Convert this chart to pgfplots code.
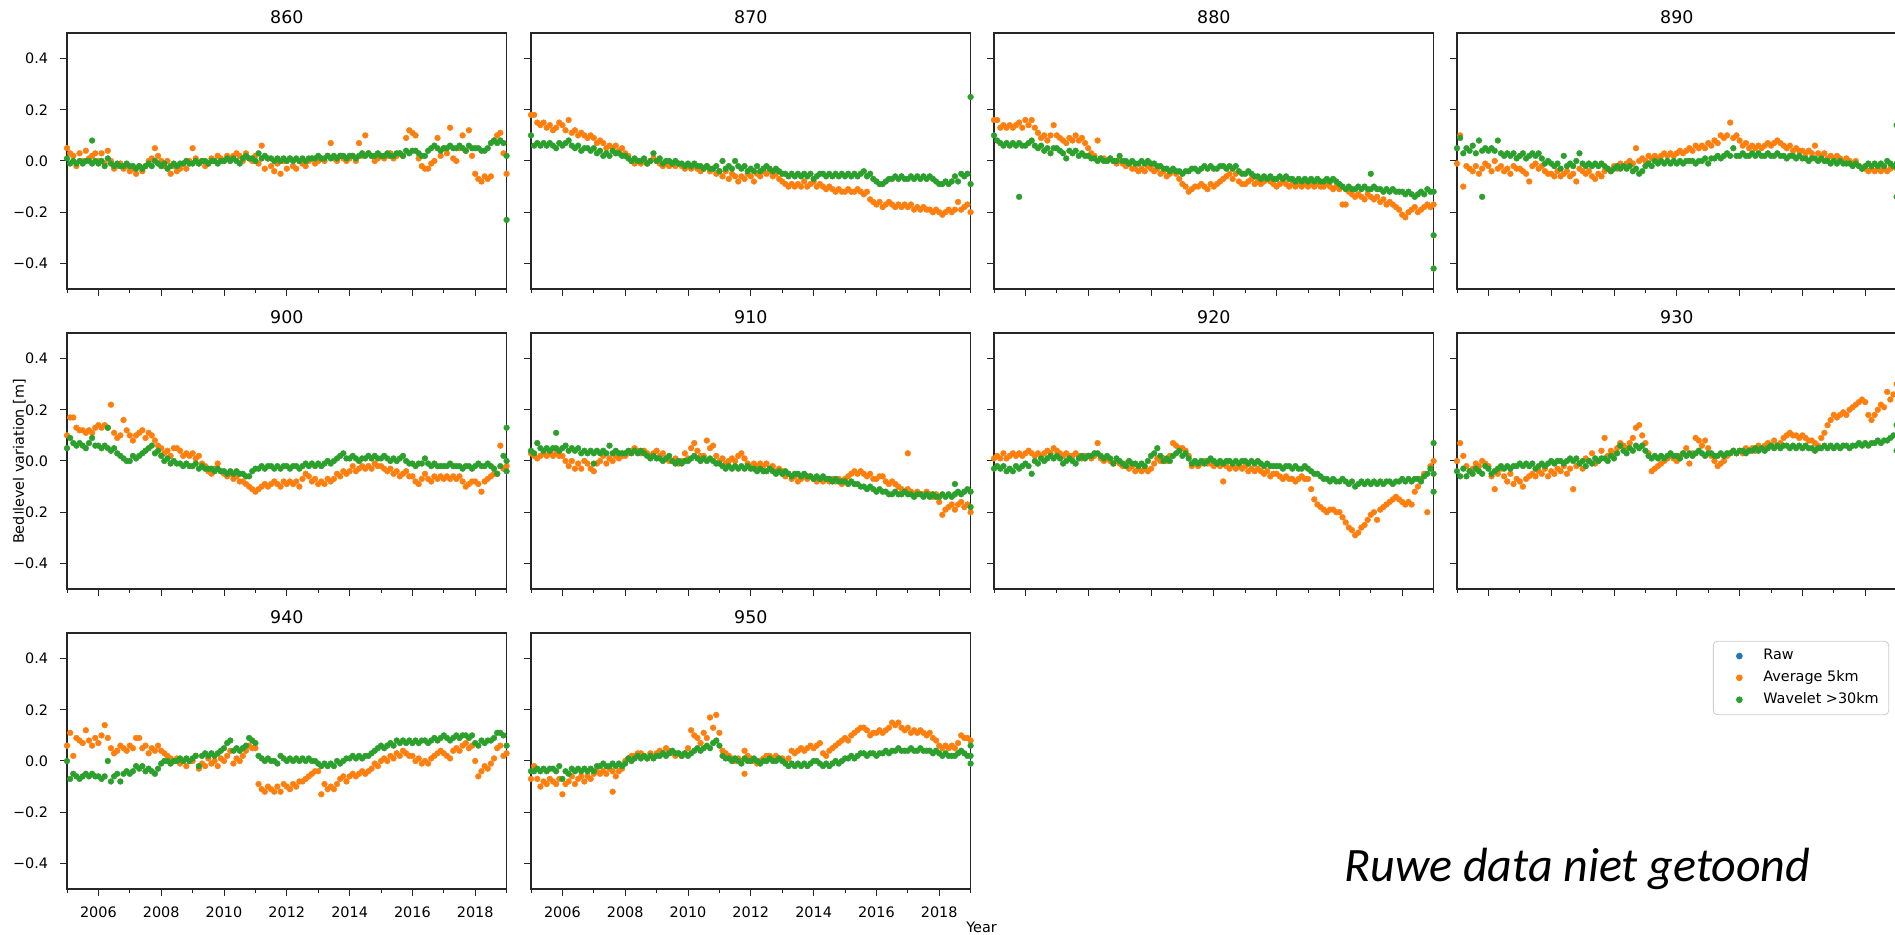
\documentclass[border=0pt]{standalone}
\usepackage{pgfplots}
\pgfplotsset{compat=1.18}
\usepackage{pgfplotstable}
\usepackage{fontspec}
\setmainfont{DejaVu Sans}
\newfontfamily\calibri{Carlito}
\definecolor{mplorange}{HTML}{FF7F0E}
\definecolor{mplgreen}{HTML}{2CA02C}
\definecolor{mplblue}{HTML}{1F77B4}

\pgfplotstableread{
t a w
2005.0 0.05 0.01
2005.1 0.03 -0.01
2005.2 0.02 0.00
2005.3 -0.02 -0.01
2005.4 0.03 0.00
2005.5 0.00 -0.01
2005.6 0.04 0.00
2005.7 0.01 0.00
2005.8 0.02 -0.01
2005.9 0.03 0.00
2006.0 0.00 -0.01
2006.1 0.03 0.00
2006.2 -0.01 -0.02
2006.3 0.04 0.01
2006.4 0.00 -0.01
2006.5 -0.03 -0.02
2006.6 -0.02 -0.01
2006.7 -0.01 -0.02
2006.8 -0.03 -0.02
2006.9 -0.02 -0.01
2007.0 -0.04 -0.02
2007.1 -0.03 -0.02
2007.2 -0.05 -0.03
2007.3 -0.02 -0.02
2007.4 -0.04 -0.03
2007.5 -0.02 -0.02
2007.6 0.00 -0.01
2007.7 0.01 -0.02
2007.8 0.05 0.00
2007.9 0.02 -0.01
2008.0 0.00 -0.02
2008.1 -0.02 -0.01
2008.2 0.00 -0.03
2008.3 -0.05 -0.02
2008.4 -0.02 -0.01
2008.5 -0.04 -0.02
2008.6 -0.03 -0.01
2008.7 -0.01 -0.01
2008.8 -0.03 0.00
2008.9 0.00 -0.01
2009.0 0.05 -0.01
2009.1 0.01 0.00
2009.2 -0.01 -0.01
2009.3 0.00 0.00
2009.4 -0.02 0.00
2009.5 -0.01 -0.01
2009.6 0.01 0.00
2009.7 0.00 0.00
2009.8 0.02 -0.01
2009.9 0.01 0.00
2010.0 0.00 0.00
2010.1 0.02 0.01
2010.2 0.01 0.00
2010.3 0.02 0.01
2010.4 0.03 0.00
2010.5 0.02 -0.01
2010.6 0.00 0.01
2010.7 0.03 0.02
2010.8 0.01 0.01
2010.9 0.00 0.01
2011.0 0.02 0.00
2011.1 -0.01 0.03
2011.2 0.06 0.01
2011.3 -0.03 0.02
2011.4 0.01 0.01
2011.5 -0.02 0.01
2011.6 -0.04 0.00
2011.7 -0.01 0.01
2011.8 -0.05 0.00
2011.9 0.00 0.01
2012.0 -0.03 0.00
2012.1 0.01 0.01
2012.2 -0.02 0.00
2012.3 -0.03 0.01
2012.4 0.00 0.00
2012.5 -0.01 0.01
2012.6 -0.02 0.00
2012.7 0.00 0.01
2012.8 0.01 0.01
2012.9 -0.01 0.01
2013.0 0.00 0.02
2013.1 0.01 0.01
2013.2 0.00 0.01
2013.3 0.02 0.02
2013.4 0.07 0.01
2013.5 0.01 0.02
2013.6 0.00 0.01
2013.7 0.02 0.02
2013.8 0.01 0.02
2013.9 0.00 0.01
2014.0 0.01 0.02
2014.1 0.02 0.02
2014.2 0.00 0.01
2014.3 0.07 0.02
2014.4 0.02 0.03
2014.5 0.10 0.02
2014.6 0.03 0.03
2014.7 0.02 0.02
2014.8 0.00 0.02
2014.9 0.01 0.03
2015.0 0.02 0.02
2015.1 0.01 0.02
2015.2 0.02 0.03
2015.3 0.03 0.02
2015.4 0.01 0.02
2015.5 0.02 0.03
2015.6 0.03 0.03
2015.7 0.02 0.02
2015.8 0.09 0.04
2015.9 0.12 0.03
2016.0 0.11 0.04
2016.1 0.10 0.04
2016.2 0.01 0.03
2016.3 -0.02 0.02
2016.4 -0.03 0.02
2016.5 -0.03 0.04
2016.6 -0.01 0.05
2016.7 0.00 0.06
2016.8 0.09 0.05
2016.9 0.02 0.04
2017.0 0.05 0.05
2017.1 0.03 0.05
2017.2 0.13 0.06
2017.3 0.01 0.05
2017.4 0.00 0.05
2017.5 0.05 0.06
2017.6 0.10 0.05
2017.7 0.04 0.04
2017.8 0.12 0.06
2017.9 0.02 0.05
2018.0 -0.05 0.05
2018.1 -0.07 0.05
2018.2 -0.08 0.04
2018.3 -0.06 0.04
2018.4 -0.07 0.05
2018.5 -0.06 0.07
2018.6 0.08 0.08
2018.7 0.10 0.07
2018.8 0.11 0.08
2018.9 0.03 0.07
2019.0 -0.05 0.02
}\tA

\pgfplotstableread{
t a w
2005.0 0.18 0.10
2005.1 0.18 0.06
2005.2 0.15 0.07
2005.3 0.14 0.06
2005.4 0.15 0.07
2005.5 0.13 0.06
2005.6 0.14 0.07
2005.7 0.12 0.06
2005.8 0.13 0.05
2005.9 0.15 0.07
2006.0 0.14 0.06
2006.1 0.12 0.07
2006.2 0.16 0.08
2006.3 0.11 0.06
2006.4 0.12 0.05
2006.5 0.10 0.06
2006.6 0.11 0.04
2006.7 0.10 0.05
2006.8 0.09 0.05
2006.9 0.10 0.04
2007.0 0.09 0.05
2007.1 0.07 0.03
2007.2 0.08 0.04
2007.3 0.07 0.02
2007.4 0.05 0.03
2007.5 0.06 0.02
2007.6 0.05 0.04
2007.7 0.06 0.03
2007.8 0.04 0.03
2007.9 0.05 0.02
2008.0 0.03 0.02
2008.1 0.02 0.01
2008.2 0.00 0.00
2008.3 -0.01 0.01
2008.4 0.00 0.00
2008.5 -0.01 0.00
2008.6 0.00 0.01
2008.7 -0.01 -0.01
2008.8 0.00 0.00
2008.9 0.01 0.03
2009.0 0.00 0.00
2009.1 -0.01 0.01
2009.2 -0.02 -0.01
2009.3 -0.01 0.00
2009.4 -0.02 0.00
2009.5 -0.01 -0.01
2009.6 -0.02 0.00
2009.7 -0.01 -0.01
2009.8 -0.02 -0.01
2009.9 -0.03 -0.02
2010.0 -0.02 -0.01
2010.1 -0.03 -0.02
2010.2 -0.02 -0.01
2010.3 -0.03 -0.02
2010.4 -0.04 -0.02
2010.5 -0.03 -0.03
2010.6 -0.02 -0.02
2010.7 -0.04 -0.03
2010.8 -0.03 -0.03
2010.9 -0.05 -0.02
2011.0 -0.04 -0.04
2011.1 -0.06 0.00
2011.2 -0.04 -0.03
2011.3 -0.07 -0.02
2011.4 -0.05 -0.03
2011.5 -0.06 0.00
2011.6 -0.08 -0.02
2011.7 -0.06 -0.03
2011.8 -0.07 -0.02
2011.9 -0.05 -0.04
2012.0 -0.06 -0.03
2012.1 -0.08 -0.04
2012.2 -0.05 -0.02
2012.3 -0.06 -0.04
2012.4 -0.04 -0.03
2012.5 -0.05 -0.02
2012.6 -0.04 -0.03
2012.7 -0.06 -0.04
2012.8 -0.05 -0.03
2012.9 -0.07 -0.04
2013.0 -0.08 -0.05
2013.1 -0.09 -0.05
2013.2 -0.10 -0.06
2013.3 -0.09 -0.05
2013.4 -0.10 -0.06
2013.5 -0.09 -0.05
2013.6 -0.10 -0.06
2013.7 -0.08 -0.05
2013.8 -0.10 -0.06
2013.9 -0.09 -0.05
2014.0 -0.08 -0.07
2014.1 -0.10 -0.06
2014.2 -0.09 -0.05
2014.3 -0.10 -0.05
2014.4 -0.11 -0.06
2014.5 -0.10 -0.05
2014.6 -0.11 -0.06
2014.7 -0.12 -0.05
2014.8 -0.11 -0.06
2014.9 -0.12 -0.05
2015.0 -0.12 -0.06
2015.1 -0.11 -0.05
2015.2 -0.12 -0.06
2015.3 -0.12 -0.05
2015.4 -0.11 -0.06
2015.5 -0.12 -0.05
2015.6 -0.13 -0.04
2015.7 -0.12 -0.06
2015.8 -0.15 -0.05
2015.9 -0.16 -0.07
2016.0 -0.17 -0.08
2016.1 -0.16 -0.09
2016.2 -0.18 -0.09
2016.3 -0.17 -0.08
2016.4 -0.16 -0.07
2016.5 -0.17 -0.07
2016.6 -0.18 -0.06
2016.7 -0.17 -0.07
2016.8 -0.18 -0.06
2016.9 -0.17 -0.07
2017.0 -0.18 -0.07
2017.1 -0.17 -0.06
2017.2 -0.19 -0.07
2017.3 -0.18 -0.06
2017.4 -0.19 -0.07
2017.5 -0.18 -0.06
2017.6 -0.19 -0.07
2017.7 -0.19 -0.06
2017.8 -0.20 -0.07
2017.9 -0.19 -0.08
2018.0 -0.20 -0.09
2018.1 -0.21 -0.09
2018.2 -0.20 -0.08
2018.3 -0.19 -0.09
2018.4 -0.20 -0.08
2018.5 -0.19 -0.06
2018.6 -0.16 -0.08
2018.7 -0.19 -0.05
2018.8 -0.18 -0.06
2018.9 -0.17 -0.05
2019.0 -0.20 -0.09
}\tB

\pgfplotstableread{
t a w
2005.0 0.16 0.10
2005.1 0.16 0.08
2005.2 0.13 0.07
2005.3 0.14 0.06
2005.4 0.13 0.07
2005.5 0.14 0.06
2005.6 0.13 0.07
2005.7 0.14 0.06
2005.8 0.15 0.07
2005.9 0.13 0.06
2006.0 0.16 0.06
2006.1 0.14 0.07
2006.2 0.16 0.08
2006.3 0.13 0.06
2006.4 0.11 0.05
2006.5 0.09 0.06
2006.6 0.10 0.04
2006.7 0.08 0.05
2006.8 0.10 0.03
2006.9 0.14 0.05
2007.0 0.10 0.05
2007.1 0.09 0.04
2007.2 0.08 0.03
2007.3 0.07 0.01
2007.4 0.09 0.04
2007.5 0.08 0.03
2007.6 0.10 0.04
2007.7 0.08 0.02
2007.8 0.09 0.03
2007.9 0.07 0.02
2008.0 0.05 0.02
2008.1 0.03 0.01
2008.2 0.02 0.01
2008.3 0.08 0.00
2008.4 0.01 0.01
2008.5 0.01 0.00
2008.6 0.00 0.00
2008.7 0.01 0.01
2008.8 0.00 0.00
2008.9 -0.01 0.00
2009.0 0.00 0.02
2009.1 -0.01 0.00
2009.2 -0.02 0.00
2009.3 -0.01 -0.01
2009.4 -0.03 0.00
2009.5 -0.03 -0.01
2009.6 -0.04 -0.01
2009.7 -0.03 0.00
2009.8 -0.04 -0.01
2009.9 -0.02 0.00
2010.0 -0.03 -0.01
2010.1 -0.04 -0.01
2010.2 -0.03 -0.02
2010.3 -0.05 -0.02
2010.4 -0.04 -0.03
2010.5 -0.06 -0.03
2010.6 -0.05 -0.04
2010.7 -0.04 -0.03
2010.8 -0.05 -0.04
2010.9 -0.07 -0.04
2011.0 -0.09 -0.05
2011.1 -0.10 -0.04
2011.2 -0.12 -0.04
2011.3 -0.11 -0.03
2011.4 -0.10 -0.03
2011.5 -0.10 -0.04
2011.6 -0.09 -0.03
2011.7 -0.10 -0.02
2011.8 -0.11 -0.03
2011.9 -0.09 -0.02
2012.0 -0.10 -0.03
2012.1 -0.09 -0.03
2012.2 -0.08 -0.02
2012.3 -0.07 -0.02
2012.4 -0.06 -0.03
2012.5 -0.05 -0.02
2012.6 -0.07 -0.03
2012.7 -0.05 -0.02
2012.8 -0.08 -0.04
2012.9 -0.09 -0.05
2013.0 -0.09 -0.05
2013.1 -0.08 -0.04
2013.2 -0.07 -0.05
2013.3 -0.09 -0.06
2013.4 -0.08 -0.06
2013.5 -0.09 -0.07
2013.6 -0.08 -0.06
2013.7 -0.07 -0.07
2013.8 -0.08 -0.06
2013.9 -0.09 -0.07
2014.0 -0.10 -0.07
2014.1 -0.09 -0.06
2014.2 -0.08 -0.07
2014.3 -0.09 -0.06
2014.4 -0.10 -0.07
2014.5 -0.09 -0.07
2014.6 -0.10 -0.08
2014.7 -0.09 -0.07
2014.8 -0.10 -0.08
2014.9 -0.09 -0.07
2015.0 -0.10 -0.08
2015.1 -0.09 -0.07
2015.2 -0.10 -0.08
2015.3 -0.09 -0.07
2015.4 -0.10 -0.08
2015.5 -0.10 -0.08
2015.6 -0.09 -0.07
2015.7 -0.10 -0.08
2015.8 -0.11 -0.07
2015.9 -0.10 -0.08
2016.0 -0.11 -0.09
2016.1 -0.17 -0.10
2016.2 -0.17 -0.11
2016.3 -0.12 -0.10
2016.4 -0.13 -0.11
2016.5 -0.14 -0.11
2016.6 -0.13 -0.10
2016.7 -0.14 -0.11
2016.8 -0.15 -0.10
2016.9 -0.13 -0.11
2017.0 -0.14 -0.11
2017.1 -0.15 -0.10
2017.2 -0.14 -0.11
2017.3 -0.16 -0.11
2017.4 -0.15 -0.12
2017.5 -0.17 -0.11
2017.6 -0.16 -0.12
2017.7 -0.17 -0.11
2017.8 -0.18 -0.12
2017.9 -0.19 -0.12
2018.0 -0.21 -0.12
2018.1 -0.22 -0.13
2018.2 -0.20 -0.12
2018.3 -0.19 -0.13
2018.4 -0.18 -0.14
2018.5 -0.20 -0.13
2018.6 -0.19 -0.12
2018.7 -0.18 -0.13
2018.8 -0.17 -0.11
2018.9 -0.18 -0.12
2019.0 -0.17 -0.12
}\tC

\pgfplotstableread{
t a w
2005.0 -0.01 0.05
2005.1 0.10 0.09
2005.2 -0.10 0.03
2005.3 -0.02 0.05
2005.4 -0.03 0.04
2005.5 -0.04 0.06
2005.6 -0.02 0.03
2005.7 -0.05 0.08
2005.8 -0.03 0.04
2005.9 -0.01 0.05
2006.0 -0.02 0.04
2006.1 -0.04 0.05
2006.2 0.00 0.04
2006.3 -0.03 0.08
2006.4 -0.02 0.03
2006.5 -0.04 0.02
2006.6 -0.03 0.03
2006.7 -0.05 0.02
2006.8 -0.02 0.03
2006.9 -0.03 0.01
2007.0 -0.03 0.02
2007.1 -0.04 0.03
2007.2 -0.05 0.01
2007.3 -0.08 0.02
2007.4 -0.02 0.03
2007.5 -0.01 0.02
2007.6 -0.03 0.03
2007.7 -0.02 0.01
2007.8 -0.04 -0.01
2007.9 -0.05 0.00
2008.0 -0.05 -0.01
2008.1 -0.06 -0.02
2008.2 -0.04 -0.01
2008.3 -0.06 -0.03
2008.4 -0.05 0.02
2008.5 -0.04 -0.02
2008.6 -0.06 -0.01
2008.7 -0.05 -0.02
2008.8 -0.08 0.00
2008.9 -0.03 0.03
2009.0 -0.04 -0.01
2009.1 -0.05 -0.02
2009.2 -0.04 -0.01
2009.3 -0.06 -0.02
2009.4 -0.07 -0.01
2009.5 -0.05 -0.02
2009.6 -0.06 -0.01
2009.7 -0.04 -0.02
2009.8 -0.03 -0.03
2009.9 -0.04 -0.04
2010.0 -0.02 -0.03
2010.1 -0.03 -0.02
2010.2 -0.01 -0.03
2010.3 -0.02 -0.02
2010.4 -0.01 -0.03
2010.5 0.00 -0.02
2010.6 -0.01 -0.04
2010.7 0.05 -0.03
2010.8 0.00 -0.05
2010.9 0.01 -0.04
2011.0 0.00 -0.02
2011.1 0.02 -0.01
2011.2 0.01 -0.02
2011.3 0.02 0.00
2011.4 0.01 -0.01
2011.5 0.02 0.00
2011.6 0.03 -0.01
2011.7 0.02 0.00
2011.8 0.03 -0.01
2011.9 0.02 0.00
2012.0 0.03 -0.01
2012.1 0.04 0.00
2012.2 0.03 -0.01
2012.3 0.04 0.00
2012.4 0.05 0.00
2012.5 0.04 0.00
2012.6 0.06 -0.01
2012.7 0.05 0.00
2012.8 0.06 0.00
2012.9 0.05 0.01
2013.0 0.07 -0.01
2013.1 0.06 0.01
2013.2 0.08 0.01
2013.3 0.07 0.02
2013.4 0.10 0.01
2013.5 0.09 0.02
2013.6 0.10 0.03
2013.7 0.15 0.02
2013.8 0.09 0.05
2013.9 0.10 0.02
2014.0 0.08 0.02
2014.1 0.06 0.03
2014.2 0.07 0.02
2014.3 0.05 0.02
2014.4 0.06 0.03
2014.5 0.05 0.02
2014.6 0.06 0.03
2014.7 0.05 0.02
2014.8 0.06 0.02
2014.9 0.07 0.03
2015.0 0.06 0.02
2015.1 0.07 0.02
2015.2 0.08 0.03
2015.3 0.07 0.02
2015.4 0.06 0.02
2015.5 0.05 0.01
2015.6 0.06 0.02
2015.7 0.04 0.02
2015.8 0.05 0.01
2015.9 0.04 0.02
2016.0 0.04 0.01
2016.1 0.03 0.01
2016.2 0.04 0.00
2016.3 0.03 0.01
2016.4 0.06 0.01
2016.5 0.03 0.00
2016.6 0.02 0.01
2016.7 0.03 0.00
2016.8 0.01 0.00
2016.9 0.02 -0.01
2017.0 0.01 0.00
2017.1 0.02 -0.01
2017.2 0.01 0.00
2017.3 0.00 -0.01
2017.4 0.01 -0.01
2017.5 0.00 -0.01
2017.6 -0.01 -0.02
2017.7 0.00 -0.01
2017.8 -0.02 -0.02
2017.9 -0.03 -0.03
2018.0 -0.03 -0.02
2018.1 -0.04 -0.01
2018.2 -0.03 -0.02
2018.3 -0.04 -0.01
2018.4 -0.03 -0.02
2018.5 -0.04 -0.01
2018.6 -0.03 -0.02
2018.7 -0.04 0.00
2018.8 -0.03 -0.01
2018.9 -0.02 -0.02
2019.0 -0.03 -0.01
}\tD

\pgfplotstableread{
t a w
2005.0 0.10 0.05
2005.1 0.17 0.09
2005.2 0.17 0.07
2005.3 0.13 0.06
2005.4 0.12 0.07
2005.5 0.12 0.06
2005.6 0.11 0.05
2005.7 0.12 0.07
2005.8 0.11 0.09
2005.9 0.13 0.06
2006.0 0.14 0.06
2006.1 0.13 0.05
2006.2 0.14 0.06
2006.3 0.13 0.05
2006.4 0.22 0.04
2006.5 0.11 0.05
2006.6 0.09 0.03
2006.7 0.10 0.02
2006.8 0.16 0.01
2006.9 0.12 0.00
2007.0 0.10 0.00
2007.1 0.08 0.02
2007.2 0.10 0.01
2007.3 0.11 0.02
2007.4 0.12 0.03
2007.5 0.09 0.04
2007.6 0.11 0.05
2007.7 0.10 0.06
2007.8 0.08 0.03
2007.9 0.06 0.04
2008.0 0.05 0.02
2008.1 0.03 0.00
2008.2 0.04 0.01
2008.3 0.02 -0.01
2008.4 0.05 0.00
2008.5 0.05 -0.01
2008.6 0.04 -0.01
2008.7 0.02 -0.02
2008.8 0.03 -0.01
2008.9 0.02 -0.02
2009.0 0.03 -0.02
2009.1 0.01 -0.01
2009.2 0.02 -0.03
2009.3 -0.01 -0.02
2009.4 -0.02 -0.03
2009.5 -0.04 -0.03
2009.6 -0.05 -0.03
2009.7 -0.03 -0.04
2009.8 -0.01 -0.03
2009.9 -0.04 -0.04
2010.0 -0.05 -0.04
2010.1 -0.06 -0.05
2010.2 -0.05 -0.04
2010.3 -0.07 -0.05
2010.4 -0.06 -0.04
2010.5 -0.08 -0.05
2010.6 -0.08 -0.05
2010.7 -0.09 -0.06
2010.8 -0.10 -0.06
2010.9 -0.11 -0.04
2011.0 -0.12 -0.03
2011.1 -0.11 -0.03
2011.2 -0.10 -0.02
2011.3 -0.09 -0.03
2011.4 -0.10 -0.02
2011.5 -0.09 -0.02
2011.6 -0.08 -0.03
2011.7 -0.09 -0.02
2011.8 -0.10 -0.03
2011.9 -0.08 -0.02
2012.0 -0.09 -0.02
2012.1 -0.08 -0.03
2012.2 -0.09 -0.02
2012.3 -0.08 -0.02
2012.4 -0.10 -0.03
2012.5 -0.07 -0.02
2012.6 -0.05 -0.01
2012.7 -0.06 -0.02
2012.8 -0.08 -0.01
2012.9 -0.07 -0.02
2013.0 -0.09 -0.01
2013.1 -0.08 -0.02
2013.2 -0.09 -0.01
2013.3 -0.07 0.00
2013.4 -0.08 -0.01
2013.5 -0.07 0.00
2013.6 -0.05 0.01
2013.7 -0.06 0.02
2013.8 -0.04 0.03
2013.9 -0.05 0.01
2014.0 -0.04 0.01
2014.1 -0.02 0.02
2014.2 -0.04 0.01
2014.3 -0.03 0.00
2014.4 -0.02 0.01
2014.5 -0.03 0.01
2014.6 -0.02 0.02
2014.7 -0.03 0.01
2014.8 -0.01 0.02
2014.9 -0.02 0.01
2015.0 -0.02 0.01
2015.1 -0.03 0.02
2015.2 -0.04 0.01
2015.3 -0.03 0.00
2015.4 -0.05 0.01
2015.5 -0.04 0.00
2015.6 -0.06 0.01
2015.7 -0.05 0.02
2015.8 -0.04 0.00
2015.9 -0.06 -0.01
2016.0 -0.06 -0.01
2016.1 -0.08 -0.02
2016.2 -0.09 -0.01
2016.3 -0.07 -0.01
2016.4 -0.05 0.01
2016.5 -0.07 -0.01
2016.6 -0.08 -0.02
2016.7 -0.06 -0.01
2016.8 -0.07 -0.02
2016.9 -0.06 -0.02
2017.0 -0.07 -0.02
2017.1 -0.06 -0.02
2017.2 -0.07 -0.01
2017.3 -0.06 -0.02
2017.4 -0.07 -0.02
2017.5 -0.06 -0.02
2017.6 -0.08 -0.03
2017.7 -0.10 -0.02
2017.8 -0.09 -0.02
2017.9 -0.08 -0.03
2018.0 -0.08 -0.02
2018.1 -0.09 -0.01
2018.2 -0.12 -0.02
2018.3 -0.08 -0.02
2018.4 -0.07 -0.01
2018.5 -0.06 -0.02
2018.6 -0.05 -0.03
2018.7 -0.05 -0.05
2018.8 0.06 -0.02
2018.9 -0.03 0.02
2019.0 -0.02 -0.04
}\tE

\pgfplotstableread{
t a w
2005.0 0.03 0.04
2005.1 0.02 0.03
2005.2 0.01 0.07
2005.3 0.02 0.05
2005.4 0.03 0.04
2005.5 0.02 0.05
2005.6 0.03 0.04
2005.7 0.02 0.05
2005.8 0.03 0.05
2005.9 0.02 0.04
2006.0 0.02 0.05
2006.1 0.00 0.06
2006.2 -0.02 0.04
2006.3 0.00 0.05
2006.4 -0.03 0.04
2006.5 -0.01 0.05
2006.6 -0.03 0.03
2006.7 0.00 0.04
2006.8 -0.01 0.03
2006.9 -0.03 0.04
2007.0 -0.04 0.03
2007.1 -0.01 0.04
2007.2 0.00 0.03
2007.3 0.02 0.04
2007.4 -0.01 0.03
2007.5 0.01 0.06
2007.6 0.00 0.03
2007.7 0.02 0.04
2007.8 0.01 0.03
2007.9 0.02 0.03
2008.0 0.02 0.03
2008.1 0.03 0.04
2008.2 0.04 0.03
2008.3 0.05 0.04
2008.4 0.04 0.03
2008.5 0.03 0.04
2008.6 0.04 0.03
2008.7 0.03 0.02
2008.8 0.02 0.01
2008.9 0.03 0.02
2009.0 0.04 0.01
2009.1 0.02 0.01
2009.2 0.03 0.00
2009.3 0.01 0.01
2009.4 0.00 0.02
2009.5 0.00 0.00
2009.6 0.01 -0.01
2009.7 -0.01 0.00
2009.8 0.00 -0.01
2009.9 0.03 0.00
2010.0 0.01 0.00
2010.1 0.05 0.01
2010.2 0.07 0.02
2010.3 0.04 0.01
2010.4 0.02 0.00
2010.5 0.02 0.01
2010.6 0.08 0.00
2010.7 0.05 0.01
2010.8 0.06 0.00
2010.9 0.02 -0.01
2011.0 0.00 -0.01
2011.1 0.01 -0.02
2011.2 -0.01 -0.03
2011.3 0.00 -0.02
2011.4 0.01 -0.03
2011.5 0.00 -0.02
2011.6 0.02 -0.03
2011.7 0.03 -0.02
2011.8 0.01 -0.03
2011.9 -0.01 -0.02
2012.0 -0.02 -0.03
2012.1 -0.01 -0.03
2012.2 -0.02 -0.04
2012.3 -0.01 -0.03
2012.4 -0.02 -0.04
2012.5 -0.01 -0.04
2012.6 -0.03 -0.03
2012.7 -0.02 -0.04
2012.8 -0.04 -0.05
2012.9 -0.03 -0.04
2013.0 -0.04 -0.05
2013.1 -0.06 -0.04
2013.2 -0.05 -0.05
2013.3 -0.07 -0.06
2013.4 -0.06 -0.05
2013.5 -0.08 -0.05
2013.6 -0.07 -0.06
2013.7 -0.06 -0.05
2013.8 -0.07 -0.06
2013.9 -0.06 -0.06
2014.0 -0.07 -0.07
2014.1 -0.08 -0.06
2014.2 -0.07 -0.07
2014.3 -0.08 -0.06
2014.4 -0.07 -0.07
2014.5 -0.08 -0.07
2014.6 -0.07 -0.08
2014.7 -0.08 -0.07
2014.8 -0.07 -0.08
2014.9 -0.09 -0.08
2015.0 -0.07 -0.08
2015.1 -0.06 -0.09
2015.2 -0.05 -0.08
2015.3 -0.04 -0.09
2015.4 -0.05 -0.09
2015.5 -0.04 -0.10
2015.6 -0.05 -0.10
2015.7 -0.06 -0.11
2015.8 -0.05 -0.10
2015.9 -0.07 -0.11
2016.0 -0.07 -0.12
2016.1 -0.06 -0.11
2016.2 -0.06 -0.12
2016.3 -0.08 -0.12
2016.4 -0.09 -0.13
2016.5 -0.08 -0.13
2016.6 -0.09 -0.12
2016.7 -0.10 -0.13
2016.8 -0.11 -0.13
2016.9 -0.12 -0.12
2017.0 -0.11 -0.13
2017.1 -0.12 -0.13
2017.2 -0.13 -0.14
2017.3 -0.12 -0.13
2017.4 -0.13 -0.13
2017.5 -0.13 -0.14
2017.6 -0.12 -0.13
2017.7 -0.13 -0.14
2017.8 -0.14 -0.13
2017.9 -0.13 -0.14
2018.0 -0.16 -0.14
2018.1 -0.21 -0.13
2018.2 -0.19 -0.14
2018.3 -0.18 -0.13
2018.4 -0.17 -0.14
2018.5 -0.19 -0.13
2018.6 -0.17 -0.12
2018.7 -0.16 -0.13
2018.8 -0.18 -0.12
2018.9 -0.17 -0.11
2019.0 -0.20 -0.12
}\tF

\pgfplotstableread{
t a w
2005.0 0.01 -0.03
2005.1 0.02 -0.02
2005.2 0.01 -0.03
2005.3 0.03 -0.02
2005.4 0.01 -0.04
2005.5 0.02 -0.03
2005.6 0.03 -0.04
2005.7 0.02 -0.02
2005.8 0.03 -0.03
2005.9 0.02 -0.02
2006.0 0.03 -0.01
2006.1 0.04 -0.02
2006.2 0.03 -0.05
2006.3 0.02 0.00
2006.4 0.03 -0.01
2006.5 0.02 0.01
2006.6 0.03 0.00
2006.7 0.04 0.01
2006.8 0.03 0.02
2006.9 0.05 0.01
2007.0 0.04 0.02
2007.1 0.03 0.01
2007.2 0.02 -0.01
2007.3 0.03 0.00
2007.4 0.02 0.01
2007.5 0.02 0.00
2007.6 0.03 -0.01
2007.7 0.02 0.01
2007.8 0.01 0.02
2007.9 0.02 0.01
2008.0 0.02 0.02
2008.1 0.01 0.02
2008.2 0.02 0.03
2008.3 0.07 0.03
2008.4 0.01 0.02
2008.5 0.00 0.01
2008.6 0.01 0.02
2008.7 0.00 0.01
2008.8 -0.01 -0.01
2008.9 0.00 0.01
2009.0 -0.01 0.00
2009.1 -0.02 -0.01
2009.2 -0.01 -0.02
2009.3 -0.03 0.00
2009.4 -0.02 -0.01
2009.5 -0.04 -0.01
2009.6 -0.03 -0.02
2009.7 -0.04 -0.01
2009.8 -0.03 -0.02
2009.9 -0.04 0.00
2010.0 -0.03 0.02
2010.1 -0.01 0.03
2010.2 0.01 0.05
2010.3 0.00 0.02
2010.4 0.01 0.00
2010.5 0.00 0.01
2010.6 0.02 0.00
2010.7 0.07 0.02
2010.8 0.06 0.03
2010.9 0.05 0.04
2011.0 0.05 0.02
2011.1 0.04 0.03
2011.2 0.02 0.01
2011.3 -0.02 -0.01
2011.4 -0.01 0.00
2011.5 -0.02 -0.01
2011.6 -0.01 0.00
2011.7 0.00 -0.01
2011.8 -0.01 0.00
2011.9 -0.01 0.01
2012.0 -0.02 0.00
2012.1 -0.01 -0.01
2012.2 -0.02 0.00
2012.3 -0.08 -0.01
2012.4 -0.02 0.00
2012.5 -0.03 0.00
2012.6 -0.02 -0.01
2012.7 -0.03 0.00
2012.8 -0.02 -0.01
2012.9 -0.03 0.00
2013.0 -0.02 0.00
2013.1 -0.04 -0.01
2013.2 -0.03 0.00
2013.3 -0.04 -0.01
2013.4 -0.03 0.00
2013.5 -0.04 -0.01
2013.6 -0.05 -0.02
2013.7 -0.04 -0.01
2013.8 -0.06 -0.02
2013.9 -0.05 -0.02
2014.0 -0.05 -0.02
2014.1 -0.06 -0.02
2014.2 -0.07 -0.03
2014.3 -0.06 -0.02
2014.4 -0.07 -0.02
2014.5 -0.07 -0.03
2014.6 -0.08 -0.02
2014.7 -0.07 -0.03
2014.8 -0.06 -0.03
2014.9 -0.07 -0.02
2015.0 -0.07 -0.03
2015.1 -0.11 -0.04
2015.2 -0.15 -0.05
2015.3 -0.17 -0.05
2015.4 -0.18 -0.06
2015.5 -0.19 -0.07
2015.6 -0.20 -0.07
2015.7 -0.19 -0.08
2015.8 -0.19 -0.07
2015.9 -0.20 -0.08
2016.0 -0.20 -0.08
2016.1 -0.22 -0.07
2016.2 -0.24 -0.08
2016.3 -0.26 -0.09
2016.4 -0.27 -0.08
2016.5 -0.29 -0.10
2016.6 -0.28 -0.09
2016.7 -0.26 -0.08
2016.8 -0.25 -0.09
2016.9 -0.23 -0.08
2017.0 -0.21 -0.09
2017.1 -0.20 -0.08
2017.2 -0.23 -0.09
2017.3 -0.19 -0.08
2017.4 -0.18 -0.09
2017.5 -0.17 -0.08
2017.6 -0.16 -0.08
2017.7 -0.15 -0.09
2017.8 -0.14 -0.08
2017.9 -0.15 -0.08
2018.0 -0.16 -0.07
2018.1 -0.17 -0.08
2018.2 -0.16 -0.07
2018.3 -0.17 -0.08
2018.4 -0.12 -0.07
2018.5 -0.10 -0.07
2018.6 -0.07 -0.08
2018.7 -0.05 -0.06
2018.8 -0.20 -0.05
2018.9 -0.02 -0.03
2019.0 0.00 -0.05
}\tG

\pgfplotstableread{
t a w
2005.0 0.00 -0.04
2005.1 0.07 -0.06
2005.2 0.02 -0.03
2005.3 -0.02 -0.06
2005.4 -0.04 -0.04
2005.5 -0.03 -0.05
2005.6 -0.01 -0.03
2005.7 -0.02 -0.04
2005.8 0.00 -0.05
2005.9 -0.01 -0.02
2006.0 -0.02 -0.03
2006.1 -0.06 -0.05
2006.2 -0.11 -0.04
2006.3 -0.05 -0.03
2006.4 -0.03 -0.02
2006.5 -0.06 -0.03
2006.6 -0.08 -0.02
2006.7 -0.05 -0.03
2006.8 -0.09 -0.02
2006.9 -0.07 -0.02
2007.0 -0.08 -0.01
2007.1 -0.10 -0.02
2007.2 -0.07 -0.01
2007.3 -0.06 -0.02
2007.4 -0.05 -0.01
2007.5 -0.06 -0.03
2007.6 -0.04 -0.02
2007.7 -0.05 -0.01
2007.8 -0.03 -0.02
2007.9 -0.06 -0.01
2008.0 -0.04 0.00
2008.1 -0.05 -0.01
2008.2 -0.03 0.00
2008.3 -0.04 0.00
2008.4 -0.02 -0.01
2008.5 -0.05 0.00
2008.6 -0.03 0.01
2008.7 -0.11 0.00
2008.8 -0.02 0.01
2008.9 -0.01 -0.01
2009.0 -0.03 0.00
2009.1 0.01 -0.02
2009.2 0.00 0.00
2009.3 0.03 -0.01
2009.4 -0.01 0.01
2009.5 0.00 0.00
2009.6 0.04 0.01
2009.7 0.09 0.01
2009.8 0.02 0.00
2009.9 0.04 0.02
2010.0 0.03 0.01
2010.1 0.05 0.03
2010.2 0.07 0.06
2010.3 0.06 0.04
2010.4 0.05 0.03
2010.5 0.07 0.05
2010.6 0.09 0.04
2010.7 0.13 0.06
2010.8 0.14 0.05
2010.9 0.10 0.06
2011.0 0.07 0.04
2011.1 0.03 0.02
2011.2 -0.04 0.01
2011.3 -0.03 0.02
2011.4 -0.02 0.01
2011.5 -0.01 0.02
2011.6 0.00 0.01
2011.7 0.01 0.02
2011.8 0.02 0.03
2011.9 0.01 0.02
2012.0 0.00 0.02
2012.1 0.02 0.01
2012.2 0.03 0.03
2012.3 0.05 0.02
2012.4 -0.01 0.03
2012.5 0.03 0.02
2012.6 0.09 0.03
2012.7 0.08 0.04
2012.8 0.06 0.03
2012.9 0.08 0.02
2013.0 0.05 0.03
2013.1 0.02 0.03
2013.2 0.00 0.02
2013.3 -0.02 0.02
2013.4 -0.01 0.03
2013.5 0.00 0.02
2013.6 0.02 0.03
2013.7 0.03 0.03
2013.8 0.04 0.04
2013.9 0.03 0.03
2014.0 0.04 0.04
2014.1 0.03 0.04
2014.2 0.05 0.03
2014.3 0.04 0.04
2014.4 0.05 0.04
2014.5 0.04 0.05
2014.6 0.06 0.04
2014.7 0.05 0.05
2014.8 0.06 0.04
2014.9 0.07 0.05
2015.0 0.06 0.06
2015.1 0.08 0.05
2015.2 0.06 0.06
2015.3 0.07 0.05
2015.4 0.09 0.06
2015.5 0.10 0.06
2015.6 0.11 0.05
2015.7 0.10 0.06
2015.8 0.10 0.05
2015.9 0.09 0.06
2016.0 0.10 0.05
2016.1 0.09 0.06
2016.2 0.08 0.05
2016.3 0.08 0.05
2016.4 0.07 0.04
2016.5 0.06 0.05
2016.6 0.09 0.05
2016.7 0.11 0.06
2016.8 0.14 0.05
2016.9 0.16 0.06
2017.0 0.18 0.05
2017.1 0.17 0.06
2017.2 0.18 0.05
2017.3 0.19 0.06
2017.4 0.18 0.06
2017.5 0.20 0.05
2017.6 0.21 0.06
2017.7 0.22 0.06
2017.8 0.23 0.07
2017.9 0.24 0.06
2018.0 0.23 0.07
2018.1 0.18 0.06
2018.2 0.16 0.07
2018.3 0.18 0.07
2018.4 0.20 0.08
2018.5 0.22 0.07
2018.6 0.21 0.08
2018.7 0.27 0.08
2018.8 0.24 0.09
2018.9 0.26 0.10
2019.0 0.30 0.10
}\tH

\pgfplotstableread{
t a w
2005.0 0.06 0.00
2005.1 0.11 -0.07
2005.2 0.02 -0.05
2005.3 0.09 -0.06
2005.4 0.08 -0.07
2005.5 0.07 -0.06
2005.6 0.12 -0.05
2005.7 0.08 -0.06
2005.8 0.06 -0.05
2005.9 0.09 -0.06
2006.0 0.07 -0.06
2006.1 0.10 -0.07
2006.2 0.14 -0.06
2006.3 0.09 0.00
2006.4 0.05 -0.08
2006.5 0.03 -0.06
2006.6 0.04 -0.05
2006.7 0.06 -0.08
2006.8 0.05 -0.05
2006.9 0.04 -0.04
2007.0 0.06 -0.05
2007.1 0.05 -0.04
2007.2 0.09 -0.02
2007.3 0.09 -0.03
2007.4 0.05 -0.02
2007.5 0.06 -0.04
2007.6 0.03 -0.03
2007.7 0.05 -0.04
2007.8 0.04 -0.05
2007.9 0.06 -0.03
2008.0 0.04 -0.01
2008.1 0.03 0.00
2008.2 0.02 0.00
2008.3 0.01 -0.01
2008.4 0.00 0.00
2008.5 0.01 0.00
2008.6 -0.01 0.01
2008.7 0.00 0.00
2008.8 -0.02 0.01
2008.9 0.00 0.00
2009.0 0.00 0.01
2009.1 0.02 0.02
2009.2 -0.03 -0.02
2009.3 -0.01 0.02
2009.4 -0.02 0.03
2009.5 0.01 0.02
2009.6 -0.01 0.03
2009.7 0.00 0.02
2009.8 -0.02 0.03
2009.9 0.01 0.04
2010.0 0.00 0.05
2010.1 0.02 0.07
2010.2 0.04 0.08
2010.3 -0.01 0.04
2010.4 0.01 0.05
2010.5 0.00 0.04
2010.6 0.02 0.05
2010.7 0.04 0.06
2010.8 0.06 0.09
2010.9 0.05 0.08
2011.0 0.05 0.07
2011.1 -0.09 0.02
2011.2 -0.11 0.01
2011.3 -0.12 0.00
2011.4 -0.10 0.01
2011.5 -0.11 0.00
2011.6 -0.12 0.00
2011.7 -0.10 -0.01
2011.8 -0.12 0.02
2011.9 -0.09 0.01
2012.0 -0.10 0.00
2012.1 -0.11 0.01
2012.2 -0.09 0.00
2012.3 -0.10 0.01
2012.4 -0.08 0.00
2012.5 -0.08 0.01
2012.6 -0.07 0.00
2012.7 -0.06 0.01
2012.8 -0.05 0.00
2012.9 -0.04 0.00
2013.0 -0.04 -0.01
2013.1 -0.13 -0.02
2013.2 -0.09 -0.01
2013.3 -0.11 -0.02
2013.4 -0.10 -0.01
2013.5 -0.11 -0.02
2013.6 -0.09 0.00
2013.7 -0.07 -0.01
2013.8 -0.06 0.00
2013.9 -0.08 0.01
2014.0 -0.06 0.01
2014.1 -0.05 0.02
2014.2 -0.06 0.01
2014.3 -0.05 0.02
2014.4 -0.04 0.01
2014.5 -0.05 0.02
2014.6 -0.04 0.02
2014.7 -0.03 0.03
2014.8 -0.01 0.04
2014.9 -0.02 0.05
2015.0 0.00 0.06
2015.1 0.01 0.05
2015.2 0.00 0.06
2015.3 0.02 0.07
2015.4 0.01 0.06
2015.5 0.03 0.08
2015.6 0.02 0.07
2015.7 0.04 0.08
2015.8 0.03 0.07
2015.9 0.02 0.08
2016.0 0.02 0.07
2016.1 0.00 0.08
2016.2 0.01 0.07
2016.3 -0.01 0.08
2016.4 0.00 0.08
2016.5 -0.01 0.07
2016.6 0.01 0.08
2016.7 0.02 0.09
2016.8 0.03 0.08
2016.9 0.04 0.09
2017.0 0.03 0.10
2017.1 0.02 0.09
2017.2 0.01 0.08
2017.3 0.04 0.09
2017.4 0.05 0.10
2017.5 0.04 0.09
2017.6 0.06 0.10
2017.7 0.07 0.10
2017.8 0.05 0.09
2017.9 0.06 0.10
2018.0 0.00 0.07
2018.1 -0.06 0.06
2018.2 -0.04 0.08
2018.3 -0.02 0.07
2018.4 -0.03 0.08
2018.5 -0.01 0.08
2018.6 0.01 0.09
2018.7 0.05 0.11
2018.8 0.06 0.11
2018.9 0.02 0.10
2019.0 0.03 0.06
}\tI

\pgfplotstableread{
t a w
2005.0 -0.07 -0.04
2005.1 -0.02 -0.04
2005.2 -0.07 -0.03
2005.3 -0.10 -0.04
2005.4 -0.08 -0.03
2005.5 -0.09 -0.04
2005.6 -0.07 -0.03
2005.7 -0.08 -0.03
2005.8 -0.09 -0.04
2005.9 -0.07 -0.02
2006.0 -0.13 -0.07
2006.1 -0.09 -0.04
2006.2 -0.08 -0.05
2006.3 -0.06 -0.03
2006.4 -0.09 -0.04
2006.5 -0.07 -0.03
2006.6 -0.06 -0.04
2006.7 -0.08 -0.03
2006.8 -0.06 -0.04
2006.9 -0.07 -0.03
2007.0 -0.05 -0.04
2007.1 -0.04 -0.02
2007.2 -0.05 -0.02
2007.3 -0.04 -0.01
2007.4 -0.05 -0.02
2007.5 -0.03 -0.02
2007.6 -0.04 -0.01
2007.7 -0.06 -0.02
2007.8 -0.04 -0.01
2007.9 -0.03 -0.02
2008.0 0.00 -0.01
2008.1 0.01 0.01
2008.2 0.02 0.00
2008.3 0.02 0.01
2008.4 0.03 0.02
2008.5 0.03 0.01
2008.6 0.02 0.02
2008.7 0.01 0.01
2008.8 0.03 0.02
2008.9 0.02 0.01
2009.0 0.03 0.02
2009.1 0.04 0.02
2009.2 0.03 0.03
2009.3 0.05 0.02
2009.4 0.04 0.03
2009.5 0.03 0.04
2009.6 0.02 0.03
2009.7 0.03 0.03
2009.8 0.02 0.02
2009.9 0.03 0.03
2010.0 0.05 0.02
2010.1 0.12 0.03
2010.2 0.10 0.04
2010.3 0.09 0.05
2010.4 0.07 0.04
2010.5 0.11 0.05
2010.6 0.09 0.06
2010.7 0.17 0.05
2010.8 0.13 0.07
2010.9 0.18 0.08
2011.0 0.11 0.06
2011.1 0.04 0.02
2011.2 0.03 0.01
2011.3 0.02 0.01
2011.4 0.01 0.00
2011.5 0.00 0.01
2011.6 0.01 0.00
2011.7 0.00 -0.01
2011.8 0.04 0.01
2011.9 0.02 0.00
2012.0 0.01 0.00
2012.1 0.00 0.01
2012.2 -0.01 0.00
2012.3 0.00 -0.01
2012.4 0.01 0.00
2012.5 0.02 0.00
2012.6 0.02 0.01
2012.7 0.01 0.00
2012.8 0.02 0.00
2012.9 0.01 0.01
2013.0 0.01 0.00
2013.1 0.00 -0.01
2013.2 0.01 -0.02
2013.3 0.04 -0.01
2013.4 0.03 -0.02
2013.5 0.04 -0.01
2013.6 0.05 -0.02
2013.7 0.04 -0.01
2013.8 0.05 -0.02
2013.9 0.06 -0.01
2014.0 0.05 0.00
2014.1 0.06 0.00
2014.2 0.07 -0.01
2014.3 0.03 -0.02
2014.4 0.02 -0.01
2014.5 0.04 -0.02
2014.6 0.05 -0.01
2014.7 0.06 0.00
2014.8 0.07 -0.01
2014.9 0.08 0.00
2015.0 0.09 0.01
2015.1 0.08 0.01
2015.2 0.10 0.02
2015.3 0.11 0.01
2015.4 0.12 0.02
2015.5 0.13 0.03
2015.6 0.13 0.03
2015.7 0.12 0.02
2015.8 0.10 0.03
2015.9 0.11 0.03
2016.0 0.11 0.02
2016.1 0.12 0.03
2016.2 0.11 0.03
2016.3 0.12 0.04
2016.4 0.13 0.03
2016.5 0.15 0.04
2016.6 0.14 0.04
2016.7 0.15 0.05
2016.8 0.13 0.04
2016.9 0.12 0.04
2017.0 0.13 0.04
2017.1 0.11 0.05
2017.2 0.12 0.04
2017.3 0.11 0.04
2017.4 0.12 0.05
2017.5 0.11 0.04
2017.6 0.10 0.04
2017.7 0.11 0.04
2017.8 0.09 0.03
2017.9 0.08 0.04
2018.0 0.06 0.03
2018.1 0.05 0.02
2018.2 0.06 0.03
2018.3 0.05 0.02
2018.4 0.06 0.02
2018.5 0.05 0.02
2018.6 0.07 0.03
2018.7 0.10 0.04
2018.8 0.09 0.03
2018.9 0.09 0.02
2019.0 0.08 0.02
}\tJ

\pgfplotsset{
  panel/.style={
    scale only axis, width=219.8pt, height=128pt,
    xmin=2005, xmax=2019, ymin=-0.5, ymax=0.5,
    xtick={2006,2008,2010,2012,2014,2016,2018},
    minor xtick={2005,2007,2009,2011,2013,2015,2017,2019},
    ytick={-0.4,-0.2,0,0.2,0.4},
    xticklabels={}, yticklabels={},
    xtick pos=bottom, ytick pos=left,
    tick align=outside, major tick length=3.3pt, minor tick length=2pt,
    every tick/.style={black!85, line width=0.5pt},
    axis line style={black!85, line width=0.55pt},
    every axis title/.style={at={(0.5,1)}, anchor=base, yshift=4.5pt, font=\fontsize{8.7}{10}\selectfont},
    tick label style={font=\fontsize{7.2}{8.6}\selectfont},
    yticklabel style={inner sep=0pt, anchor=east, xshift=-6pt},
    xticklabel style={inner sep=0pt, anchor=north, yshift=-5.5pt},
    anchor=north west,
  },
  ylab/.style={yticklabels={−0.4,−0.2,0.0,0.2,0.4}},
  xlab/.style={xticklabels={2006,2008,2010,2012,2014,2016,2018}},
  avg/.style={only marks, mark=*, mark size=1.45pt, color=mplorange, mark options={line width=0.2pt}},
  wav/.style={only marks, mark=*, mark size=1.45pt, color=mplgreen, mark options={line width=0.2pt}},
}

\begin{document}
\begin{tikzpicture}
\useasboundingbox (0,0) rectangle (947.5pt,467.5pt);

% Row 1
\begin{axis}[panel, ylab, at={(33.5pt,451pt)}, title={860}]
\addplot[avg] table[x=t,y=a]{\tA};
\addplot[wav] table[x=t,y=w]{\tA};
\addplot[wav] coordinates {(2005.8,0.08) (2019.0,-0.23)};
\end{axis}
\begin{axis}[panel, at={(265.5pt,451pt)}, title={870}]
\addplot[avg] table[x=t,y=a]{\tB};
\addplot[wav] table[x=t,y=w]{\tB};
\addplot[wav] coordinates {(2019.0,0.25)};
\end{axis}
\begin{axis}[panel, at={(497pt,451pt)}, title={880}]
\addplot[avg] table[x=t,y=a]{\tC};
\addplot[wav] table[x=t,y=w]{\tC};
\addplot[wav] coordinates {(2005.8,-0.14) (2017.0,-0.05) (2019.0,-0.29) (2019.0,-0.42)};
\end{axis}
\begin{axis}[panel, at={(728.5pt,451pt)}, title={890}]
\addplot[avg] table[x=t,y=a]{\tD};
\addplot[wav] table[x=t,y=w]{\tD};
\addplot[wav] coordinates {(2005.8,-0.14) (2019.0,0.14) (2019.0,-0.14)};
\end{axis}

% Row 2
\begin{axis}[panel, ylab, at={(33.5pt,301pt)}, title={900}]
\addplot[avg] table[x=t,y=a]{\tE};
\addplot[wav] table[x=t,y=w]{\tE};
\addplot[wav] coordinates {(2006.3,0.13) (2019.0,0.13) (2019.0,0.00)};
\end{axis}
\begin{axis}[panel, at={(265.5pt,301pt)}, title={910}]
\addplot[avg] table[x=t,y=a]{\tF};
\addplot[avg] coordinates {(2017.0,0.03)};
\addplot[wav] table[x=t,y=w]{\tF};
\addplot[wav] coordinates {(2005.8,0.11) (2007.0,-0.01) (2018.5,-0.09) (2019.0,-0.18)};
\end{axis}
\begin{axis}[panel, at={(497pt,301pt)}, title={920}]
\addplot[avg] table[x=t,y=a]{\tG};
\addplot[wav] table[x=t,y=w]{\tG};
\addplot[wav] coordinates {(2019.0,0.07) (2019.0,-0.12)};
\end{axis}
\begin{axis}[panel, at={(728.5pt,301pt)}, title={930}]
\addplot[avg] table[x=t,y=a]{\tH};
\addplot[wav] table[x=t,y=w]{\tH};
\addplot[wav] coordinates {(2019.0,0.04) (2019.0,0.14)};
\end{axis}

% Row 3
\begin{axis}[panel, ylab, xlab, at={(33.5pt,151pt)}, title={940}]
\addplot[avg] table[x=t,y=a]{\tI};
\addplot[wav] table[x=t,y=w]{\tI};
\end{axis}
\begin{axis}[panel, xlab, at={(265.5pt,151pt)}, title={950}]
\addplot[avg] table[x=t,y=a]{\tJ};
\addplot[avg] coordinates {(2007.6,-0.12) (2011.8,-0.05)};
\addplot[wav] table[x=t,y=w]{\tJ};
\addplot[wav] coordinates {(2019.0,-0.01) (2019.0,0.06)};
\end{axis}

% Legend holder
\begin{axis}[at={(728.5pt,151pt)}, anchor=north west, scale only axis,
  width=219.8pt, height=128pt, hide axis, xmin=0, xmax=1, ymin=0, ymax=1,
  legend cell align=left,
  legend style={at={(0.983,0.969)}, anchor=north east, draw=black!20,
    rounded corners=2pt, font=\fontsize{7.2}{8.6}\selectfont,
    inner xsep=3pt, inner ysep=2pt},
  legend image code/.code={\path[draw=none,fill=none] (0pt,0pt) -- (20pt,0pt); \draw[#1, rounded corners=0pt] plot[only marks] coordinates {(10pt,0pt)};}]
\addlegendimage{only marks, mark=*, mark size=1.45pt, color=mplblue}
\addlegendentry{Raw}
\addlegendimage{only marks, mark=*, mark size=1.45pt, color=mplorange}
\addlegendentry{Average 5km}
\addlegendimage{only marks, mark=*, mark size=1.45pt, color=mplgreen}
\addlegendentry{Wavelet >30km}
\end{axis}

\node[rotate=90, anchor=base, font=\fontsize{7.2}{8.6}\selectfont] at (12pt,236.75pt) {Bed level variation [m]};
\node[anchor=base, font=\fontsize{7.2}{8.6}\selectfont] at (490.75pt,1.3pt) {Year};
\node[anchor=base west, font=\calibri\itshape\fontsize{24}{28}\selectfont, inner sep=0pt] at (672pt,26.5pt) {Ruwe data niet getoond};
\end{tikzpicture}
\end{document}
